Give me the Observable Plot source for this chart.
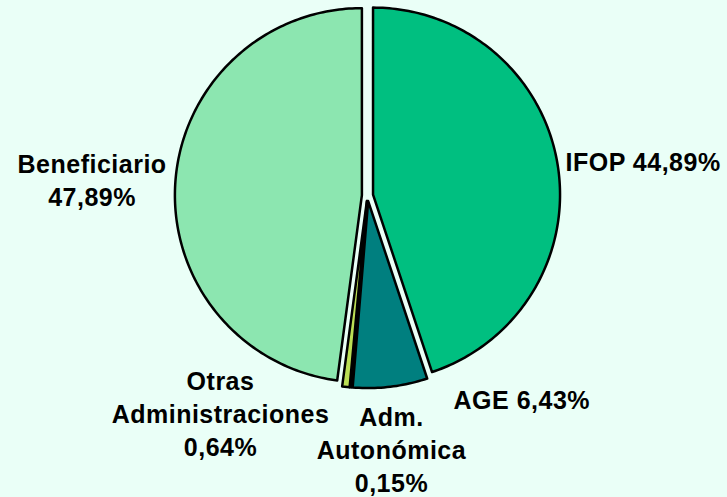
<!DOCTYPE html>
<html>
<head>
<meta charset="utf-8">
<script src="https://cdn.jsdelivr.net/npm/d3@7"></script>
<script src="https://cdn.jsdelivr.net/npm/@observablehq/plot@0.6"></script>
<style>
  html, body { margin: 0; padding: 0; background: #EAFFF7; }
  #chart svg text { letter-spacing: 0.5px; }
</style>
</head>
<body>
<div id="chart"></div>
<script>
// ---- data ----
const categories = ["IFOP", "AGE", "Adm. Autonómica", "Otras Administraciones", "Beneficiario"];
const values = [44.89, 6.43, 0.15, 0.64, 47.89];
const labels = ["IFOP 44,89%", "AGE 6,43%", "Adm.\nAutonómica\n0,15%", "Otras\nAdministraciones\n0,64%", "Beneficiario\n47,89%"];
const colors = ["#00BF80", "#007F7F", "#007F7F", "#BBDF55", "#8CE6B0"];

// ---- layout (pixel frame for scales) ----
const W = 727, H = 497;
const cx = 367, cy = 195, R = 187;   // pie centre & radius in pixels
const explode = 0.03;                 // radial offset (in radii)

const total = d3.sum(values);
let acc = 0;
const slices = values.map((v, i) => {
  const a0 = acc / total * 2 * Math.PI;
  acc += v;
  const a1 = acc / total * 2 * Math.PI;
  const am = (a0 + a1) / 2;
  const ox = explode * Math.sin(am), oy = explode * Math.cos(am);
  const n = Math.max(2, Math.ceil((a1 - a0) / (Math.PI / 180)));
  const pts = [{x: ox, y: oy}];
  for (let k = 0; k <= n; k++) {
    const a = a0 + (a1 - a0) * k / n;
    pts.push({x: ox + Math.sin(a), y: oy + Math.cos(a)});
  }
  return {name: categories[i], color: colors[i], pts, am};
});

// label anchor points (in radius units, relative to centre)
const labelAt = [
  {x: 1.059, y: 0.187, anchor: "start"},
  {x: 0.46, y: -1.086, anchor: "start"},
  {x: 0.128, y: -1.355, anchor: "middle"},
  {x: -0.786, y: -1.160, anchor: "middle"},
  {x: -1.473, y: 0.091, anchor: "middle"}
];
const labelData = labels.map((t, i) => ({text: t, ...labelAt[i]}));

const textOpts = {
  x: "x", y: "y", text: "text",
  fontSize: 25, fontWeight: "bold",
  fontFamily: "'Liberation Sans', Arial, sans-serif",
  fill: "black", lineHeight: 1.32
};

const plot = Plot.plot({
  width: W, height: H,
  margin: 0,
  style: {background: "#EAFFF7"},
  x: {axis: null, domain: [-1, 1], range: [cx - R, cx + R]},
  y: {axis: null, domain: [-1, 1], range: [cy + R, cy - R]},
  marks: [
    ...slices.map(s => Plot.line(s.pts, {
      x: "x", y: "y", curve: "linear-closed",
      fill: s.color, stroke: "black", strokeWidth: 2.5, strokeLinejoin: "round"
    })),
    Plot.text(labelData.filter(d => d.anchor === "start"), {...textOpts, textAnchor: "start"}),
    Plot.text(labelData.filter(d => d.anchor === "middle"), {...textOpts, textAnchor: "middle"})
  ]
});
document.getElementById("chart").appendChild(plot);
</script>
</body>
</html>
